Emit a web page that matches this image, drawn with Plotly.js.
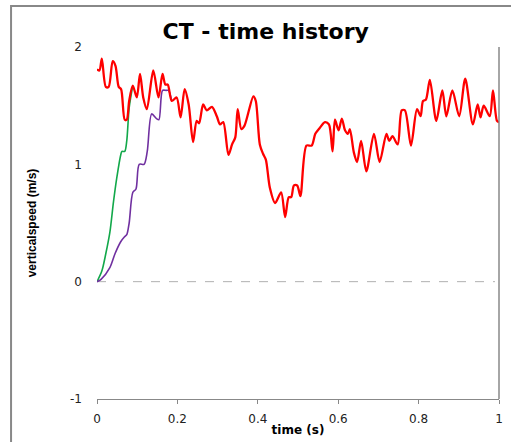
<!DOCTYPE html>
<html>
<head>
<meta charset="utf-8">
<script src="https://cdn.plot.ly/plotly-3.0.1.min.js"></script>
<style>html,body{margin:0;padding:0;background:#fff;}#chart{width:511px;height:442px;}</style>
</head>
<body>
<div id="chart"></div>
<script>
// Red series (full time history)
const redTime = [0.000,0.006,0.012,0.022,0.029,0.039,0.046,0.054,0.060,0.069,0.074,0.080,0.089,0.099,0.107,0.115,0.124,0.140,0.153,0.163,0.170,0.176,0.186,0.198,0.208,0.218,0.228,0.239,0.248,0.254,0.264,0.273,0.286,0.298,0.306,0.314,0.327,0.336,0.344,0.350,0.359,0.367,0.389,0.395,0.405,0.413,0.420,0.430,0.443,0.458,0.468,0.477,0.483,0.490,0.498,0.506,0.521,0.534,0.543,0.554,0.567,0.577,0.586,0.592,0.601,0.609,0.617,0.624,0.629,0.639,0.647,0.657,0.670,0.689,0.703,0.720,0.727,0.735,0.748,0.758,0.766,0.781,0.796,0.805,0.811,0.818,0.828,0.844,0.859,0.869,0.884,0.901,0.916,0.935,0.947,0.954,0.962,0.977,0.985,0.995,1.000];
const redSpeed = [1.81,1.80,1.90,1.66,1.66,1.88,1.84,1.66,1.64,1.38,1.38,1.54,1.67,1.57,1.77,1.57,1.47,1.80,1.57,1.77,1.68,1.68,1.54,1.57,1.40,1.64,1.51,1.19,1.37,1.35,1.51,1.46,1.49,1.41,1.34,1.36,1.08,1.17,1.23,1.47,1.30,1.33,1.58,1.54,1.17,1.09,1.04,0.80,0.67,0.76,0.55,0.72,0.72,0.82,0.82,0.73,1.16,1.16,1.26,1.31,1.36,1.34,1.11,1.38,1.29,1.39,1.29,1.26,1.30,1.10,1.02,1.20,0.94,1.26,1.02,1.26,1.20,1.24,1.17,1.46,1.46,1.16,1.47,1.41,1.54,1.55,1.72,1.37,1.63,1.41,1.63,1.41,1.73,1.34,1.51,1.40,1.50,1.41,1.63,1.37,1.36];

// Green series (fast rise)
const greenTime = [0.000,0.012,0.022,0.032,0.041,0.049,0.059,0.062,0.069,0.074,0.080,0.089];
const greenSpeed = [0.00,0.09,0.24,0.42,0.68,0.88,1.08,1.11,1.11,1.20,1.48,1.67];

// Purple series (slower rise)
const purpleTime = [0.000,0.010,0.032,0.045,0.059,0.068,0.074,0.080,0.089,0.097,0.105,0.117,0.125,0.136,0.148,0.154,0.163,0.172,0.178,0.186];
const purpleSpeed = [0.00,0.02,0.12,0.24,0.34,0.38,0.40,0.50,0.76,0.79,1.00,1.00,1.11,1.43,1.39,1.38,1.63,1.63,1.63,1.54];

const xTicks = [0,0.2,0.4,0.6,0.8,1];
const xTickText = ['0','0.2','0.4','0.6','0.8','1'];
const yTicks = [-1,0,1,2];
const yTickText = ['-1','0','1','2'];

const traces = [
  {x: greenTime, y: greenSpeed, mode: 'lines', line: {color: '#12a84a', width: 1.6, shape: 'spline', smoothing: 0.8}, hoverinfo: 'skip'},
  {x: purpleTime, y: purpleSpeed, mode: 'lines', line: {color: '#7030a0', width: 1.6, shape: 'spline', smoothing: 0.8}, hoverinfo: 'skip'},
  {x: redTime, y: redSpeed, mode: 'lines', line: {color: '#ff0000', width: 2.3, shape: 'spline', smoothing: 0.8}, hoverinfo: 'skip'}
];

const layout = {
  width: 511, height: 442,
  margin: {l: 97, r: 12, t: 47, b: 43},
  paper_bgcolor: '#ffffff', plot_bgcolor: '#ffffff',
  showlegend: false,
  title: {text: 'CT - time history', font: {family: 'DejaVu Sans', size: 22, color: '#000', weight: 'bold'}, x: 0.52, xanchor: 'center', y: 0.93, yanchor: 'middle'},
  xaxis: {
    range: [0, 1], tickvals: xTicks, ticktext: xTickText,
    showgrid: false, zeroline: false,
    showline: true, linecolor: '#888888', linewidth: 1,
    ticks: 'outside', ticklen: 4, tickcolor: '#888888',
    tickfont: {family: 'DejaVu Sans', size: 12, color: '#222'},
    ticklabelstandoff: 5,
    title: {text: 'time (s)', font: {family: 'DejaVu Sans', size: 12, color: '#000', weight: 'bold'}, standoff: 0}
  },
  yaxis: {
    range: [-1, 2], tickvals: yTicks, ticktext: yTickText,
    showgrid: false, zeroline: false, showline: false, ticks: '',
    tickfont: {family: 'DejaVu Sans', size: 12, color: '#222'},
    ticklabelstandoff: 14,
    title: {text: 'verticalspeed (m/s)', font: {family: 'Liberation Sans Narrow, Liberation Sans', size: 12, color: '#000', weight: 'bold'}, standoff: 30}
  },
  shapes: [
    {type: 'line', xref: 'paper', yref: 'y', x0: 0, x1: 0.99, y0: 0, y1: 0, line: {color: '#b0b0b0', width: 1, dash: 'dash'}, layer: 'below'},
    {type: 'line', xref: 'paper', yref: 'paper', x0: 1, x1: 1, y0: 0, y1: 1, line: {color: '#888888', width: 1.5}},
    {type: 'path', xref: 'paper', yref: 'paper', path: 'M -0.2138,-0.13 L -0.2138,1.1165 L 1.03,1.1165', line: {color: '#888888', width: 2}}
  ]
};

Plotly.newPlot('chart', traces, layout, {displayModeBar: false, staticPlot: true});
</script>
</body>
</html>
